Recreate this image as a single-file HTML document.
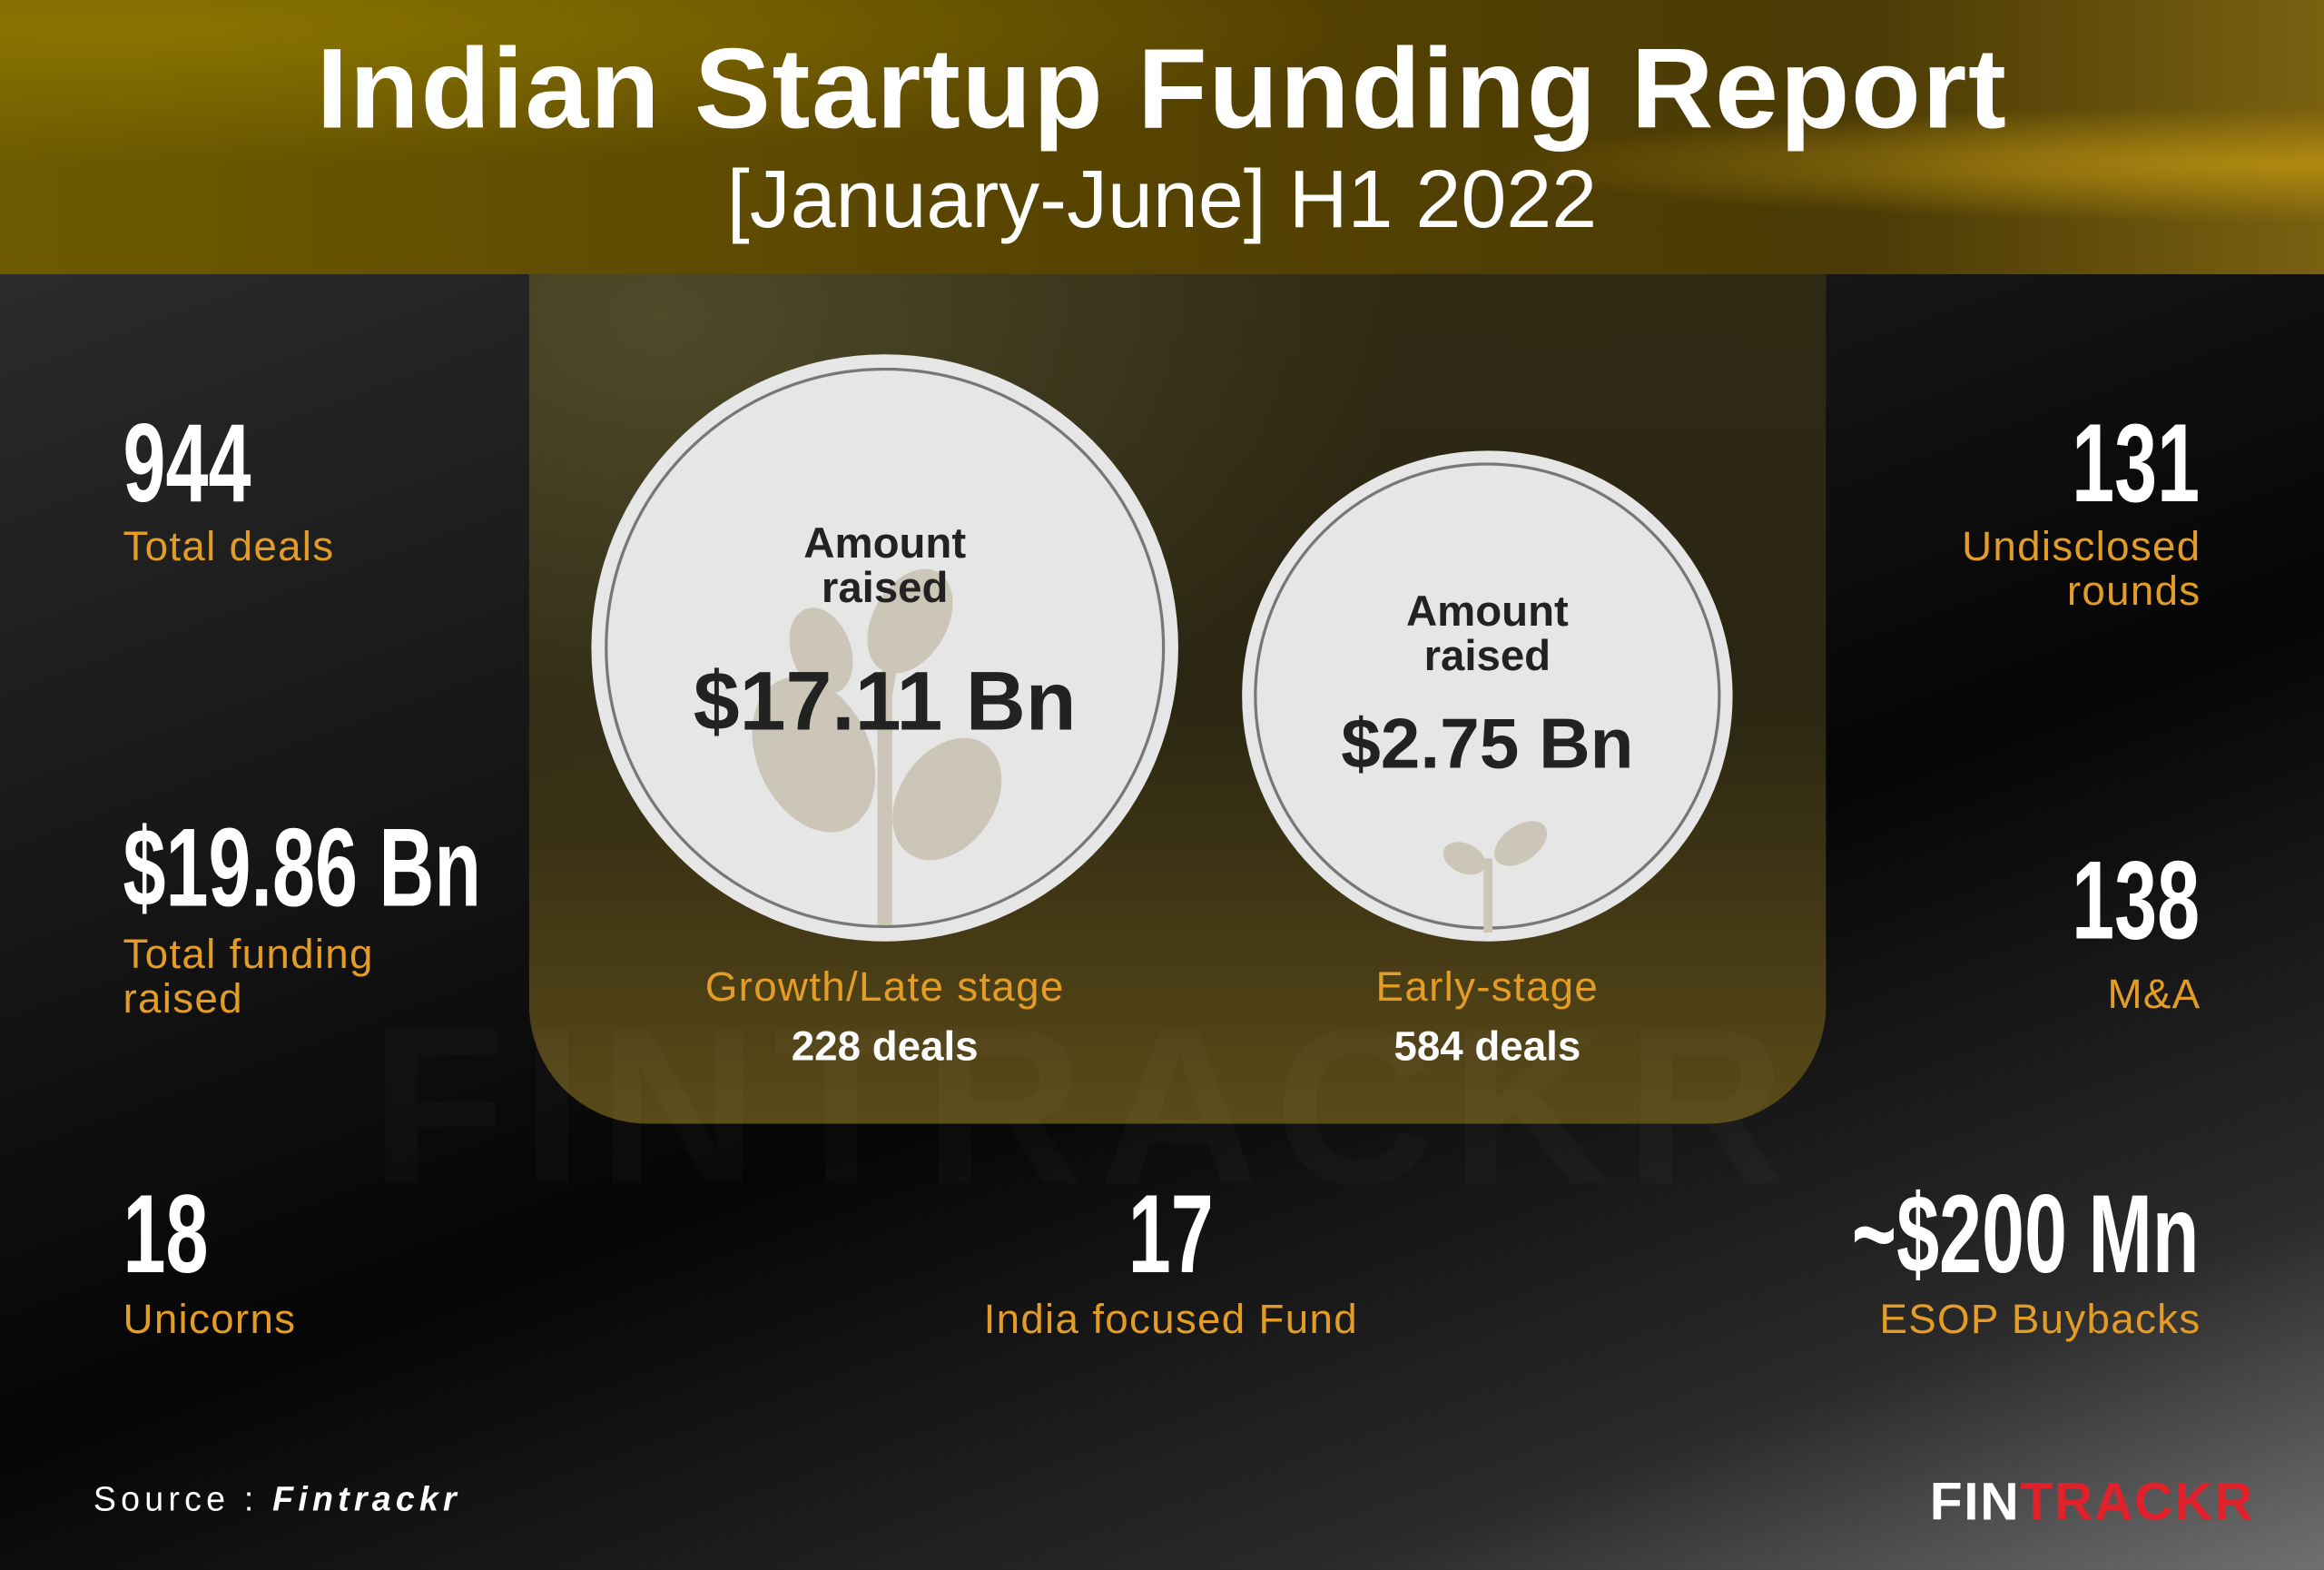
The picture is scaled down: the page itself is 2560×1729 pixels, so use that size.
<!DOCTYPE html>
<html><head><meta charset="utf-8">
<style>
html,body{margin:0;padding:0;width:2560px;height:1729px;overflow:hidden;background:#000}
#w{position:absolute;left:0;top:0;width:1568px;height:1059px;transform:scale(1.63265);transform-origin:0 0;overflow:hidden;font-family:"Liberation Sans",sans-serif;
background:linear-gradient(160deg,#333 0%,#151515 40%,#050505 60%,#2a2a2a 85%,#707070 100%);}
.hdr{position:absolute;left:0;top:0;width:1568px;height:185px;background:radial-gradient(ellipse at 5% 10%,#8a7400 0%,transparent 40%),radial-gradient(ellipse at 100% 60%,#b08a10 0%,transparent 25%),linear-gradient(90deg,#6d5a00,#5a4600 40%,#4a3a05 80%,#7a6010);}
.t1{position:absolute;left:0;width:1568px;text-align:center;top:16px;color:#fff;font-weight:bold;font-size:77px;letter-spacing:1px}
.t2{position:absolute;left:0;width:1568px;text-align:center;top:102px;color:#fff;font-size:55px}
.panel{position:absolute;left:357px;top:185px;width:875px;height:573px;border-radius:0 0 80px 80px;
background:radial-gradient(ellipse at 10% 5%,#4f4a28 0%,transparent 45%),linear-gradient(180deg,#2e2a14 0%,#2a2612 50%,#5a4a18 100%);}
.num{position:absolute;color:#fff;font-weight:bold;font-size:75px;transform:scaleX(0.69);white-space:nowrap;line-height:1}
.l{transform-origin:0 0}.r{transform-origin:100% 0;text-align:right}.c{transform-origin:50% 0}
.lab{position:absolute;color:#e39c25;font-size:28px;letter-spacing:0.8px;line-height:30px;white-space:nowrap}
.circ{position:absolute;border-radius:50%;background:#e6e6e6}
.ring{position:absolute;border-radius:50%;border:2.5px solid #777}
.ct{position:absolute;text-align:center;color:#222;font-weight:bold}
</style></head><body><div id="w">
<div class="hdr"></div>
<div class="t1">Indian Startup Funding Report</div>
<div class="t2">[January-June] H1 2022</div>
<div class="panel"></div>
<div style="position:absolute;left:250px;top:660px;font-size:150px;font-weight:bold;color:rgba(255,255,255,0.025);letter-spacing:10px">FINTRACKR</div>

<div class="circ" style="left:399px;top:239px;width:396px;height:396px"></div>
<div class="ring" style="left:408px;top:248px;width:374px;height:374px"></div>
<svg style="position:absolute;left:399px;top:239px" width="396" height="396">
<g fill="#cbc6b8"><path d="M198 385 L198 230 Q205 180 230 150" stroke="#cbc6b8" stroke-width="10" fill="none"/>
<ellipse cx="150" cy="270" rx="38" ry="55" transform="rotate(-25 150 270)"/>
<ellipse cx="240" cy="300" rx="32" ry="45" transform="rotate(35 240 300)"/>
<ellipse cx="215" cy="180" rx="25" ry="38" transform="rotate(30 215 180)"/>
<ellipse cx="155" cy="200" rx="20" ry="30" transform="rotate(-20 155 200)"/></g></svg>
<div class="ct" style="left:399px;width:396px;top:352px;font-size:29px;line-height:30px">Amount<br>raised</div>
<div class="ct" style="left:399px;width:396px;top:440px;font-size:56px">$17.11 Bn</div>

<div class="circ" style="left:838px;top:304px;width:331px;height:331px"></div>
<div class="ring" style="left:846px;top:312px;width:311px;height:311px"></div>
<svg style="position:absolute;left:838px;top:304px" width="331" height="331">
<g fill="#cbc6b8"><rect x="163" y="275" width="6" height="50"/><ellipse cx="150" cy="275" rx="15" ry="10" transform="rotate(25 150 275)"/><ellipse cx="188" cy="265" rx="20" ry="12" transform="rotate(-35 188 265)"/></g></svg>
<div class="ct" style="left:838px;width:331px;top:398px;font-size:29px;line-height:30px">Amount<br>raised</div>
<div class="ct" style="left:838px;width:331px;top:475px;font-size:48px">$2.75 Bn</div>

<div class="lab" style="left:399px;width:396px;text-align:center;top:651px">Growth/Late stage</div>
<div style="position:absolute;left:399px;width:396px;text-align:center;top:690px;color:#fff;font-weight:bold;font-size:28px">228 deals</div>
<div class="lab" style="left:838px;width:331px;text-align:center;top:651px">Early-stage</div>
<div style="position:absolute;left:838px;width:331px;text-align:center;top:690px;color:#fff;font-weight:bold;font-size:28px">584 deals</div>

<div class="num l" style="left:83px;top:275px">944</div>
<div class="lab" style="left:83px;top:354px">Total deals</div>
<div class="num l" style="left:83px;top:548px">$19.86 Bn</div>
<div class="lab" style="left:83px;top:629px">Total funding<br>raised</div>
<div class="num l" style="left:83px;top:795px">18</div>
<div class="lab" style="left:83px;top:875px">Unicorns</div>

<div class="num r" style="right:84px;top:275px">131</div>
<div class="lab" style="right:83px;text-align:right;top:354px">Undisclosed<br>rounds</div>
<div class="num r" style="right:84px;top:570px">138</div>
<div class="lab" style="right:83px;top:656px">M&amp;A</div>
<div class="num r" style="right:84px;top:795px">~$200 Mn</div>
<div class="lab" style="right:83px;top:875px">ESOP Buybacks</div>

<div class="num c" style="left:690px;width:200px;text-align:center;top:795px">17</div>
<div class="lab" style="left:590px;width:400px;text-align:center;top:875px">India focused Fund</div>

<div style="position:absolute;left:63px;top:998px;color:#fff;font-size:23px;letter-spacing:3.2px">Source : <b><i>Fintrackr</i></b></div>
<div style="position:absolute;right:47px;top:992px;font-size:36px;font-weight:bold;letter-spacing:1px"><span style="color:#fff">FIN</span><span style="color:#e0202a">TRACKR</span></div>
</div></body></html>
